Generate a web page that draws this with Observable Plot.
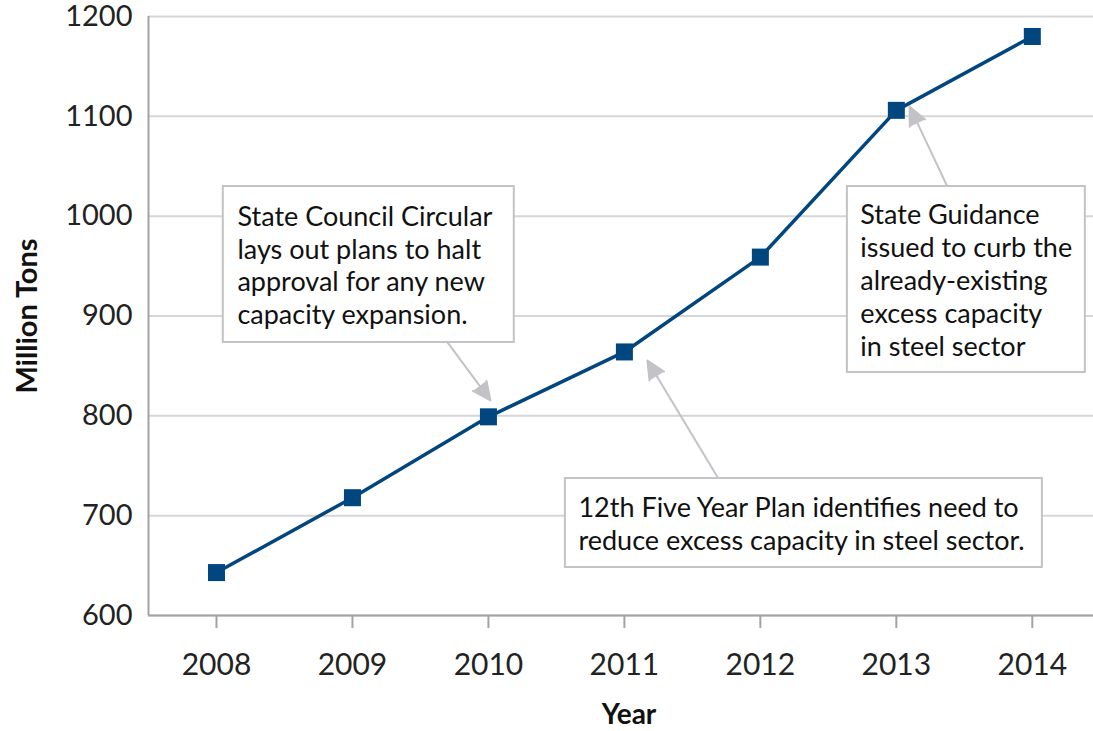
<!DOCTYPE html>
<html>
<head>
<meta charset="utf-8">
<script src="https://cdn.jsdelivr.net/npm/d3@7"></script>
<script src="https://cdn.jsdelivr.net/npm/@observablehq/plot@0.6"></script>
<style>
  html, body { margin: 0; padding: 0; background: #fff; }
  #chart svg { display: block; }
</style>
</head>
<body>
<div id="chart"></div>
<script>
// Data
const years = [2008, 2009, 2010, 2011, 2012, 2013, 2014];
const capacity = [643, 718, 799, 864, 959, 1106, 1180];
const yTicks = [600, 700, 800, 900, 1000, 1100, 1200];

// Annotations (data coordinates: year, million tons)
const noteText = [
  "State Council Circular\nlays out plans to halt\napproval for any new\ncapacity expansion.",
  "12th Five Year Plan identifies need to\nreduce excess capacity in steel sector.",
  "State Guidance\nissued to curb the\nalready-existing\nexcess capacity\nin steel sector"
];
const noteX1 = [2008.05, 2010.566, 2012.64];
const noteX2 = [2010.19, 2014.074, 2014.39];
const noteY1 = [873.5, 648.1, 843.4];
const noteY2 = [1029.7, 737.2, 1029.7];
const noteTextX = [2008.154, 2010.662, 2012.735];
const noteTextY = [951.6, 692.7, 936.6];
const arrowFromX = [2009.699, 2011.691, 2013.375];
const arrowFromY = [873.5, 737.2, 1029.7];
const arrowToX = [2010.015, 2011.169, 2013.098];
const arrowToY = [815.4, 855.4, 1109.7];

const data = years.map((y, i) => ({year: y, value: capacity[i]}));
const notes = noteText.map((t, i) => ({
  text: t, x1: noteX1[i], x2: noteX2[i], y1: noteY1[i], y2: noteY2[i],
  tx: noteTextX[i], ty: noteTextY[i],
  ax1: arrowFromX[i], ay1: arrowFromY[i], ax2: arrowToX[i], ay2: arrowToY[i]
}));

const blue = "#02467f";
const gridGray = "#d6d6d8";
const axisGray = "#a3a3a6";
const boxGray = "#c3c3c7";

const chart = Plot.plot({
  width: 1093,
  height: 731,
  marginLeft: 148,
  marginRight: 0,
  marginTop: 16,
  marginBottom: 116,
  style: {fontFamily: "Lato, 'Open Sans', sans-serif", background: "#fff", color: "#222"},
  x: {type: "linear", domain: [2007.5, 2014.45]},
  y: {domain: [600, 1200]},
  marks: [
    Plot.gridY(yTicks, {stroke: gridGray, strokeOpacity: 1, strokeWidth: 2}),
    Plot.ruleX([2007.5], {stroke: axisGray, strokeWidth: 2}),
    Plot.ruleY([600], {stroke: axisGray, strokeWidth: 2}),
    Plot.axisY({ticks: yTicks, tickSize: 0, tickPadding: 16, tickFormat: d => String(d), fontSize: 29, label: null, fill: "#222"}),
    Plot.axisX({ticks: years, tickSize: 13, tickPadding: 25, tickFormat: d => String(d), fontSize: 30, label: null, stroke: axisGray, strokeWidth: 2, fill: "#222"}),
    Plot.arrow(notes, {x1: "ax1", y1: "ay1", x2: "ax2", y2: "ay2", stroke: boxGray, fill: boxGray, strokeWidth: 2, headLength: 15, headAngle: 50}),
    Plot.rect(notes, {x1: "x1", x2: "x2", y1: "y1", y2: "y2", fill: "#fff", stroke: boxGray, strokeWidth: 2}),
    Plot.text(notes, {x: "tx", y: "ty", text: "text", textAnchor: "start", lineAnchor: "middle", lineHeight: 1.22, fontSize: 27, fill: "#111"}),
    Plot.line(data, {x: "year", y: "value", stroke: blue, strokeWidth: 3.5}),
    Plot.dot(data, {x: "year", y: "value", symbol: "square", r: 9.6, fill: blue, stroke: "none"}),
    Plot.text(["Million Tons"], {frameAnchor: "left", textAnchor: "middle", lineAnchor: "middle", rotate: -90, dx: -121, fontSize: 29, fontWeight: "bold", fill: "#111"}),
    Plot.text(["Year"], {frameAnchor: "bottom", lineAnchor: "middle", dy: 100, dx: 8, fontSize: 28, fontWeight: "bold", fill: "#111"})
  ]
});
document.getElementById("chart").appendChild(chart);
</script>
</body>
</html>
